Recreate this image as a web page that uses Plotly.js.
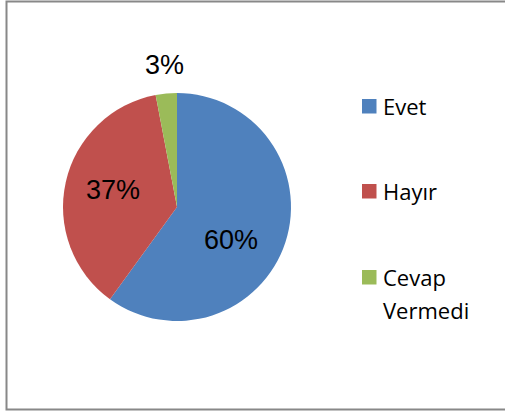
<!DOCTYPE html>
<html>
<head>
<meta charset="utf-8">
<script src="https://cdn.plot.ly/plotly-3.0.1.min.js"></script>
<style>
html,body{margin:0;padding:0;background:#fff;}
#chart{width:505px;height:414px;}
</style>
</head>
<body>
<div id="chart"></div>
<script>
var labels = ["Evet", "Hayır", "Cevap Vermedi"];
var legendLines = [["Evet"], ["Hayır"], ["Cevap", "Vermedi"]];
var values = [60, 37, 3];
var colors = ["#4F81BD", "#C0504D", "#9BBB59"];

var W = 505, H = 414;
function px(x){ return x / W; }
function py(y){ return 1 - y / H; }

var trace = {
  type: "pie",
  labels: labels,
  values: values,
  sort: false,
  direction: "clockwise",
  rotation: 0,
  marker: {colors: colors, line: {width: 0}},
  textinfo: "none",
  hoverinfo: "none",
  showlegend: false,
  automargin: false,
  domain: {x: [px(63), px(291)], y: [py(321), py(93)]}
};

var total = values.reduce(function(a, b){ return a + b; }, 0);
// label anchor positions (layout, pixels)
var labelPos = [[230.5, 240], [113, 190], [164, 65]];

var shapes = [{
  type: "rect", xref: "paper", yref: "paper",
  x0: px(6.5), x1: 1.05, y0: py(409.5), y1: py(1.5),
  line: {color: "#888888", width: 2}, fillcolor: "rgba(0,0,0,0)"
}];
var annotations = [];
for (var k = 0; k < values.length; k++) {
  annotations.push({
    xref: "paper", yref: "paper",
    x: px(labelPos[k][0]), y: py(labelPos[k][1]),
    xanchor: "center", yanchor: "middle",
    text: Math.round(values[k] / total * 100) + "%",
    showarrow: false,
    font: {family: "Liberation Sans, Arial, sans-serif", size: 27, color: "#000"}
  });
}
var legendTop = [99, 184, 270];
for (var i = 0; i < labels.length; i++) {
  var t = legendTop[i];
  shapes.push({
    type: "rect", xref: "paper", yref: "paper",
    x0: px(362), x1: px(376.5), y0: py(t + 14.5), y1: py(t),
    line: {width: 0}, fillcolor: colors[i]
  });
  for (var j = 0; j < legendLines[i].length; j++) {
    annotations.push({
      xref: "paper", yref: "paper",
      x: px(381), y: py(t + 7 + j * 33),
      xanchor: "left", yanchor: "middle",
      text: legendLines[i][j], showarrow: false,
      font: {family: "Open Sans, sans-serif", size: 22, color: "#000"}
    });
  }
}

var layout = {
  width: W, height: H,
  margin: {l: 0, r: 0, t: 0, b: 0},
  paper_bgcolor: "#fff",
  showlegend: false,
  shapes: shapes,
  annotations: annotations
};

Plotly.newPlot("chart", [trace], layout, {displayModeBar: false, staticPlot: true});
</script>
</body>
</html>
